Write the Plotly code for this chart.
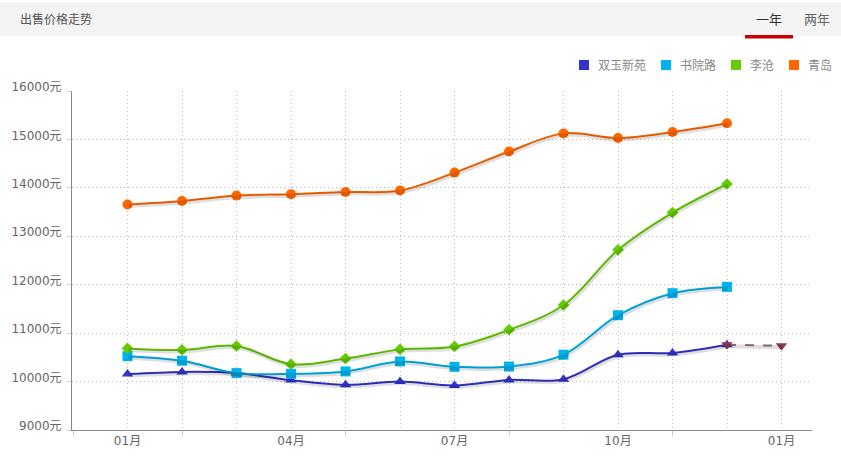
import plotly.graph_objects as go

# ---------------- data ----------------
month_index = list(range(12))
tick_pos = list(range(13))
tick_labels = ["01月", "", "", "04月", "", "", "07月", "", "", "10月", "", "", "01月"]

names = ["双玉新苑", "书院路", "李沧", "青岛"]
shuangyu = [10155, 10200, 10175, 10030, 9935, 10000, 9920, 10035, 10050, 10555, 10590, 10760]
shuyuan = [10525, 10430, 10175, 10160, 10210, 10415, 10305, 10310, 10555, 11370, 11825, 11955]
licang = [10685, 10655, 10735, 10360, 10475, 10665, 10725, 11070, 11580, 12720, 13490, 14080]
qingdao = [13655, 13730, 13840, 13870, 13915, 13945, 14315, 14750, 15125, 15030, 15155, 15335]
forecast_x = [11, 12]
forecast_y = [10760, 10740]

yticks = [9000, 10000, 11000, 12000, 13000, 14000, 15000, 16000]

# ---------------- styles ----------------
colors = ["#3333CC", "#00B2EE", "#66CC00", "#FF6600"]
symbols = ["triangle-up", "square", "diamond", "circle"]
msizes = [10, 10, 9, 10]
series = [shuangyu, shuyuan, licang, qingdao]
legend_sq_px = [579, 661, 731, 789]   # legend square left edges (px)

W, H = 841, 460
ML, MR, MT, MB = 72, 29, 91, 30
PW, PH = W - ML - MR, H - MT - MB
month_px = 54.5
xmin = -55.5 / month_px
xmax = xmin + PW / month_px
ymin, ymax = 9000, 16000
units_per_px = (ymax - ymin) / PH
FONT = "DejaVu Sans, Noto Sans CJK SC, sans-serif"


def px_x(p):
    return (p - ML) / PW


def px_y(p):
    return 1 + (MT - p) / PH


fig = go.Figure()

# shadows (same data, drawn on a slightly shifted overlay axis)
for xs, ys in [(month_index, s) for s in series] + [(forecast_x, forecast_y)]:
    fig.add_trace(go.Scatter(
        x=xs, y=ys, mode="lines", xaxis="x2", yaxis="y2",
        line=dict(color="rgba(0,0,0,0.13)", width=4, shape="spline", smoothing=1),
        hoverinfo="skip", showlegend=False))

# forecast dashed line
fig.add_trace(go.Scatter(
    x=forecast_x, y=forecast_y, mode="lines",
    line=dict(color="rgba(139,58,80,0.75)", width=2, dash="dash"),
    hoverinfo="skip", showlegend=False))

for name, ys, c, s, ms in zip(names, series, colors, symbols, msizes):
    fig.add_trace(go.Scatter(
        x=month_index, y=ys, mode="lines+markers", name=name,
        line=dict(color=c, width=2, shape="spline", smoothing=1),
        marker=dict(symbol=s, size=ms, color=c),
        showlegend=False))

fig.add_trace(go.Scatter(
    x=forecast_x, y=forecast_y, mode="markers", name="预测",
    marker=dict(symbol="triangle-down", size=10, color="#8B3A50"),
    hoverinfo="skip", showlegend=False))

# legend (squares + labels)
for name, c, lx in zip(names, colors, legend_sq_px):
    fig.add_shape(type="rect", xref="paper", yref="paper",
                  x0=px_x(lx), x1=px_x(lx + 10), y0=px_y(70), y1=px_y(60),
                  fillcolor=c, line=dict(width=0))
    fig.add_annotation(text=name, xref="paper", yref="paper",
                       x=px_x(lx + 17), y=px_y(65), xanchor="left", yanchor="middle",
                       showarrow=False, font=dict(family=FONT, size=12, color="#888888"))

# header band and title texts
fig.add_shape(type="rect", xref="paper", yref="paper",
              x0=px_x(0), x1=px_x(W), y0=px_y(36), y1=px_y(2),
              fillcolor="#F4F4F4", line=dict(width=0), layer="below")
fig.add_shape(type="rect", xref="paper", yref="paper",
              x0=px_x(745), x1=px_x(793), y0=px_y(38.5), y1=px_y(35),
              fillcolor="#CC0000", line=dict(width=0))
fig.add_annotation(text="出售价格走势", xref="paper", yref="paper",
                   x=px_x(18), y=px_y(19), xanchor="left", yanchor="middle",
                   showarrow=False, font=dict(family=FONT, size=12, color="#555555"))
fig.add_annotation(text="一年", xref="paper", yref="paper",
                   x=px_x(769), y=px_y(19), xanchor="center", yanchor="middle",
                   showarrow=False, font=dict(family=FONT, size=13, color="#333333"))
fig.add_annotation(text="两年", xref="paper", yref="paper",
                   x=px_x(817), y=px_y(19), xanchor="center", yanchor="middle",
                   showarrow=False, font=dict(family=FONT, size=13, color="#666666"))

grid = dict(showgrid=True, gridcolor="#BBBBBB", griddash="1px,3px", gridwidth=1)

fig.update_layout(
    width=W, height=H,
    margin=dict(l=ML, r=MR, t=MT, b=MB, pad=0),
    paper_bgcolor="white", plot_bgcolor="white",
    font=dict(family=FONT, size=12, color="#666666"),
    showlegend=False,
    xaxis=dict(range=[xmin, xmax], tickmode="array", tickvals=tick_pos, ticktext=tick_labels,
               ticks="", showline=True, linecolor="#888888", linewidth=1,
               zeroline=False, tickfont=dict(size=12, color="#666666"),
               minor=dict(tickmode="array", tickvals=[-1, 1, 4, 7, 10], ticks="outside",
                          ticklen=5, tickcolor="#C0D0E0", showgrid=False),
               **grid),
    yaxis=dict(range=[ymin, ymax], tickmode="array", tickvals=yticks,
               ticktext=[f"{v}元" for v in yticks],
               ticks="outside", ticklen=4, tickcolor="#C0D0E0", ticklabelstandoff=3,
               ticklabelshift=-4,
               showline=True, linecolor="#888888", linewidth=1, zeroline=False,
               tickfont=dict(size=12, color="#666666"), **grid),
    xaxis2=dict(range=[xmin - 1.0 / month_px, xmax - 1.0 / month_px], overlaying="x",
                visible=False, showgrid=False),
    yaxis2=dict(range=[ymin + 1.5 * units_per_px, ymax + 1.5 * units_per_px], overlaying="y",
                visible=False, showgrid=False),
)

fig.write_html("out.html")
